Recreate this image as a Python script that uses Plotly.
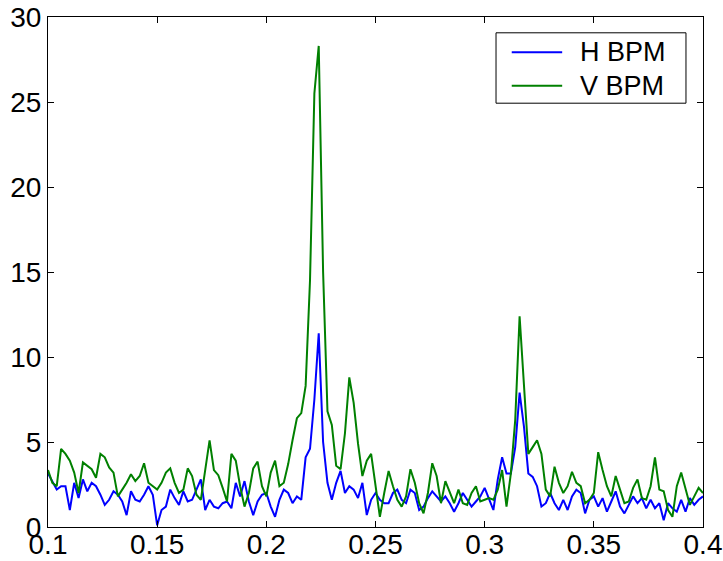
import numpy as np
import plotly.graph_objects as go

# frequency grid (tune units), 0.100 .. 0.400 step 0.002
freq = np.round(np.arange(0.100, 0.4001, 0.002), 3).tolist()

h_bpm = [
    # 0.100 - 0.148
    3.15, 2.7, 2.2, 2.4, 2.4, 1.0, 2.6, 1.7, 2.8, 2.1, 2.6, 2.4, 1.9, 1.3, 1.6, 2.1, 1.9, 1.5, 0.7, 2.1, 1.6, 1.5, 1.9, 2.4, 1.9,
    # 0.150 - 0.198
    0.1, 1.0, 1.2, 2.2, 1.7, 1.3, 2.1, 1.5, 1.6, 2.2, 2.8, 1.0, 1.6, 1.2, 1.1, 1.4, 1.5, 1.1, 2.6, 1.8, 2.7, 1.5, 0.7, 1.5, 1.9,
    # 0.200 - 0.270
    2.0, 1.2, 0.6, 1.6, 2.2, 2.0, 1.4, 1.8, 1.6, 4.1, 4.6, 7.5, 11.4, 5.0, 2.6, 1.6, 2.6, 3.3, 2.0, 2.4, 2.2, 1.7, 2.6, 0.7, 1.6, 2.0, 1.6, 1.4, 1.4, 2.0, 2.2, 1.6, 1.4, 2.2, 2.0, 1.0,
    # 0.272 - 0.298
    1.2, 1.7, 2.1, 1.8, 1.5, 1.8, 1.4, 0.9, 1.4, 2.0, 1.6, 1.2, 1.5, 1.8,
    # 0.300 - 0.348
    2.3, 1.6, 1.0, 2.8, 4.1, 3.15, 3.15, 4.7, 7.9, 5.9, 3.15, 2.95, 2.4, 1.2, 1.4, 2.0, 1.4, 1.0, 1.6, 1.0, 1.8, 2.2, 2.0, 0.8, 1.6,
    # 0.350 - 0.400
    1.8, 1.2, 1.7, 0.9, 1.5, 2.1, 1.2, 0.8, 1.3, 1.8, 1.4, 1.7, 1.1, 1.6, 1.1, 1.4, 0.4, 1.4, 1.1, 0.9, 1.6, 0.9, 1.7, 1.3, 1.6, 1.8,
]

v_bpm = [
    # 0.100 - 0.148
    3.35, 2.6, 2.4, 4.6, 4.3, 3.9, 3.2, 2.0, 3.8, 3.6, 3.4, 2.9, 4.3, 4.1, 3.5, 3.2, 1.8, 2.2, 2.6, 3.1, 2.7, 3.0, 3.75, 2.6, 2.4,
    # 0.150 - 0.198
    2.2, 2.6, 3.2, 3.45, 2.6, 2.0, 2.2, 3.45, 3.0, 1.9, 1.6, 3.35, 5.1, 3.35, 3.05, 2.3, 1.5, 4.3, 3.9, 2.4, 1.2, 2.0, 3.45, 3.85, 2.4,
    # 0.200 - 0.270
    1.8, 3.2, 3.9, 2.4, 2.6, 3.7, 5.1, 6.4, 6.7, 8.3, 14.5, 25.5, 28.3, 15.0, 6.8, 6.0, 3.6, 3.4, 5.5, 8.8, 7.3, 4.9, 3.0, 3.9, 4.3, 2.4, 0.6, 2.0, 3.3, 2.4, 1.6, 1.2, 1.8, 3.4, 2.6, 1.4,
    # 0.272 - 0.298
    0.8, 2.0, 3.75, 3.0, 1.4, 2.7, 2.0, 1.4, 2.2, 1.4, 1.3, 2.0, 2.4, 1.5,
    # 0.300 - 0.348
    1.6, 1.7, 1.6, 2.2, 3.35, 1.2, 3.15, 6.3, 12.4, 8.6, 4.3, 4.7, 5.1, 4.3, 2.2, 1.8, 3.55, 2.6, 2.0, 2.4, 3.25, 2.6, 2.4, 1.4, 1.6,
    # 0.350 - 0.400
    2.0, 4.4, 3.35, 2.4, 1.8, 3.0, 2.2, 1.4, 1.5, 2.3, 2.8, 1.7, 1.6, 2.4, 4.1, 2.2, 2.1, 1.0, 0.6, 2.4, 3.2, 2.2, 1.3, 1.8, 2.3, 2.0,
]

series_names = ["H BPM", "V BPM"]
series_colors = ["#0000FF", "#008000"]

x_ticks = [0.1, 0.15, 0.2, 0.25, 0.3, 0.35, 0.4]
x_tick_text = ["0.1", "0.15", "0.2", "0.25", "0.3", "0.35", "0.4"]
y_ticks = [0, 5, 10, 15, 20, 25, 30]

fig = go.Figure()
for name, vals, col in zip(series_names, [h_bpm, v_bpm], series_colors):
    fig.add_trace(go.Scatter(x=freq, y=vals, mode="lines", name=name,
                             line=dict(color=col, width=2), showlegend=False))

# MATLAB-style legend box (drawn in paper coordinates of the plot area)
fig.add_shape(type="rect", xref="paper", yref="paper",
              x0=0.684, x1=0.974, y0=0.831, y1=0.969,
              line=dict(color="#000000", width=1), fillcolor="white", layer="above")
legend_rows_y = [0.931, 0.865]
for name, col, yy in zip(series_names, series_colors, legend_rows_y):
    fig.add_shape(type="line", xref="paper", yref="paper",
                  x0=0.708, x1=0.785, y0=yy, y1=yy,
                  line=dict(color=col, width=2), layer="above")
    fig.add_annotation(xref="paper", yref="paper", x=0.809, y=yy,
                       xanchor="left", yanchor="middle", text=name, showarrow=False,
                       font=dict(family="Liberation Sans, Arial, sans-serif", size=27, color="#000000"))

axis_font = dict(family="Liberation Sans, Arial, sans-serif", size=28, color="#000000")
fig.update_layout(
    width=723, height=561,
    margin=dict(l=48, r=20, t=17, b=34),
    paper_bgcolor="white", plot_bgcolor="white",
    showlegend=False,
)
fig.update_xaxes(range=[0.1, 0.4], tickvals=x_ticks, ticktext=x_tick_text,
                 ticks="inside", ticklen=6, tickcolor="#000000",
                 showline=True, linecolor="#000000", linewidth=1, mirror="ticks",
                 showgrid=False, zeroline=False, tickfont=axis_font,
                 automargin=False, ticklabelstandoff=-8)
fig.update_yaxes(range=[0, 30], tickvals=y_ticks,
                 ticks="inside", ticklen=6, tickcolor="#000000",
                 showline=True, linecolor="#000000", linewidth=1, mirror="ticks",
                 showgrid=False, zeroline=False, tickfont=axis_font,
                 automargin=False)

fig.write_html("out.html")
